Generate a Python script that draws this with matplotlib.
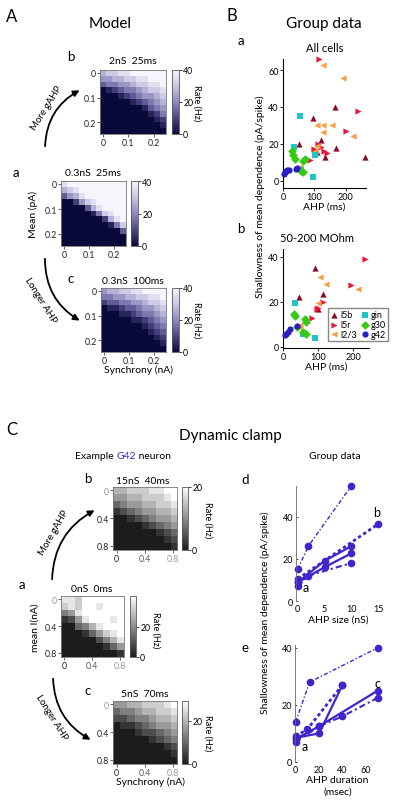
import numpy as np
import matplotlib.pyplot as plt
from matplotlib.colors import LinearSegmentedColormap
from matplotlib.patches import FancyArrowPatch

plt.rcParams['font.family'] = ['Lato', 'DejaVu Sans']

# ---- data ----
# model rate maps (digits 0-9 -> 0-40 Hz), rows = mean 0 (top) .. 0.25
model_a = ["89999999999", "67899999999", "35689999999", "00257899999",
           "00003689999", "00000147899", "00000002689", "00000000147",
           "00000000003", "00000000000", "00000000000"]
model_b = ["67788999999", "55667788999", "34455677889", "01234456778",
           "00012345567", "00000123456", "00000001345", "00000000124",
           "00000000012", "00000000001", "00000000000"]
model_c = ["56677889999", "44556677889", "23344556778", "01123345567",
           "00011234456", "00000112345", "00000001234", "00000000123",
           "00000000012", "00000000001", "00000000000"]

# dynamic clamp rate maps (digits 0-9 -> 0-vmax)
clamp_a = ["887999999", "787998999", "458999999", "125899989",
           "003468999", "000135789", "000002468", "000000135",
           "000000001"]
clamp_b = ["667778899", "556677789", "345566778", "123455667",
           "001234556", "000012345", "000000123", "000000012",
           "000000001"]
clamp_c = ["556677789", "344566778", "223445667", "011234556",
           "000122345", "000001234", "000000012", "000000001",
           "000000000"]

# group data, all cells
l5b_x_a = [166, 95, 50, 121, 169, 134, 263, 108]
l5b_y_a = [40, 34, 20, 22, 17.5, 13, 13, 15.5]
l5r_x_a = [116, 238, 200, 142, 132, 122, 105, 85, 100, 112]
l5r_y_a = [66, 38, 27, 15, 16, 18, 15, 11, 17, 20]
l23_x_a = [127, 193, 108, 129, 156, 129, 224, 108, 103, 50, 55]
l23_y_a = [62.5, 55.5, 30, 30, 30, 26.5, 24, 19, 16, 7.6, 6.7]
gin_x_a = [55, 34, 97, 103, 58]
gin_y_a = [35, 18, 2, 14, 6]
g30_x_a = [28, 33, 38, 63, 70, 57, 63]
g30_y_a = [16, 14, 12, 10.5, 11.5, 5, 4.5]
g42_x_a = [2, 7, 11, 18, 14, 44, 40]
g42_y_a = [3.5, 4.5, 5, 6, 5.5, 7, 6.5]

# group data, 50-200 MOhm
l5b_x_b = [91, 46, 115, 101]
l5b_y_b = [35, 22, 23.5, 17]
l5r_x_b = [235, 195, 115, 96, 82, 100]
l5r_y_b = [39, 27.6, 20, 16.7, 13, 17.5]
l23_x_b = [106, 123, 214, 101, 49, 45]
l23_y_b = [31, 28, 25.6, 19.7, 9.8, 8.9]
gin_x_b = [33, 58, 92]
gin_y_b = [19.4, 5.9, 4.1]
g30_x_b = [30, 35, 63, 66, 58, 66, 40]
g30_y_b = [14.5, 13.8, 12.3, 11.1, 6.4, 5.9, 9]
g42_x_b = [9, 13, 19, 40, 7]
g42_y_b = [5.9, 6.8, 7.9, 9.3, 5.5]

groups = ['l5b', 'l5r', 'l2/3', 'gin', 'g30', 'g42']

# dynamic clamp group data
size_x = [[0, 2, 10], [0, 15], [0, 5, 10], [0, 5, 10], [0, 2, 10]]
size_y = [[15, 26, 54.6], [10.4, 36.5], [8.8, 19, 26], [8.8, 16, 22.6], [6.9, 12, 18]]
dur_x = [[0, 12, 70], [0, 10, 40], [0, 20, 40], [0, 20, 70], [0, 20, 40, 70]]
dur_y = [[14, 28, 40], [9, 11.5, 27], [8.5, 10, 27], [8, 12.5, 25], [7, 12.5, 16, 22.5]]

# ---- styles ----
W, H = 400, 812
fig = plt.figure(figsize=(4, 8.12), dpi=100)
purple = LinearSegmentedColormap.from_list(
    'p', ['#0a0a3a', '#4a4682', '#8e8abd', '#c8c6e4', '#f5f5fc'])
grey = LinearSegmentedColormap.from_list('g', ['#1c1c1c', '#ffffff'])
blue = '#4025cc'
gcol = {'l5b': '#8c0a22', 'l5r': '#e8183c', 'l2/3': '#f5a045',
        'gin': '#22c4c4', 'g30': '#33cc11', 'g42': '#2a1ec4'}
gmark = {'l5b': '^', 'l5r': '>', 'l2/3': '<', 'gin': 's', 'g30': 'D', 'g42': 'o'}
line_styles = [dict(ls=(0, (3, 1.5, 1, 1.5)), lw=1.0),
               dict(ls=(0, (1.2, 1)), lw=2.0),
               dict(ls='-', lw=1.6),
               dict(ls='-', lw=1.6),
               dict(ls=(0, (3, 1.5, 1, 1.5)), lw=1.5)]


def box(l, t, r, b):
    return fig.add_axes([l / W, 1 - b / H, (r - l) / W, (b - t) / H])


def txt(x, y, s, size=7, **kw):
    kw.setdefault('ha', 'center')
    kw.setdefault('va', 'center')
    return fig.text(x / W, 1 - y / H, s, fontsize=size, **kw)


def arrow(p0, p1, rad):
    a = FancyArrowPatch((p0[0] / W, 1 - p0[1] / H), (p1[0] / W, 1 - p1[1] / H),
                        transform=fig.transFigure, arrowstyle='-|>', mutation_scale=9,
                        lw=1.3, color='black', connectionstyle=f'arc3,rad={rad}')
    fig.add_artist(a)


def to_grid(rows, vmax):
    return np.array([[int(c) for c in r] for r in rows]) * vmax / 9


def rate_map(rows, rect, crect, cmap, vmax, ext, ticks, labels, cticks):
    ax = box(*rect)
    im = ax.imshow(to_grid(rows, vmax), cmap=cmap, vmin=0, vmax=vmax, extent=ext,
                   interpolation='nearest', aspect='auto')
    ax.set_xticks(ticks)
    ax.set_xticklabels(labels)
    ax.set_yticks(ticks)
    ax.set_yticklabels(labels)
    ax.tick_params(length=2, width=0.5, labelsize=6.3, pad=1, colors='#222222')
    for s in ax.spines.values():
        s.set_color('#777777')
        s.set_linewidth(0.6)
    cax = box(*crect)
    cb = fig.colorbar(im, cax=cax, ticks=cticks)
    cb.ax.tick_params(length=2, width=0.5, labelsize=6.3, pad=1)
    cb.outline.set_linewidth(0.6)
    cb.outline.set_edgecolor('#555555')
    return ax


# ---- A: model ----
txt(12, 17, 'A', 12)
txt(110, 24, 'Model', 11)
m_ext = (-0.012, 0.248, 0.248, -0.012)
m_ticks = [0, 0.1, 0.2]
m_lab = ['0', '0.1', '0.2']
rate_map(model_b, (100, 71, 166, 135), (172, 71, 179, 135), purple, 40, m_ext, m_ticks, m_lab, [0, 20, 40])
rate_map(model_a, (61, 182, 126, 247), (131, 182, 138, 247), purple, 40, m_ext, m_ticks, m_lab, [0, 20, 40])
rate_map(model_c, (101, 289, 166, 353), (172, 289, 179, 353), purple, 40, m_ext, m_ticks, m_lab, [0, 20, 40])
txt(71, 57, 'b', 9.5)
txt(133, 62, '2nS  25ms', 7.5)
txt(16, 173, 'a', 9.5)
txt(93, 173, '0.3nS  25ms', 7.5)
txt(71, 279, 'c', 9.5)
txt(133, 281, '0.3nS  100ms', 7.5)
txt(139, 370, 'Synchrony (nA)', 7.5)
txt(33, 214, 'Mean (pA)', 7.5, rotation=90)
txt(197, 103, 'Rate (Hz)', 6.5, rotation=-90)
txt(197, 320, 'Rate (Hz)', 6.5, rotation=-90)
arrow((45, 150), (82, 90), -0.3)
arrow((45, 257), (82, 323), 0.3)
txt(47, 108, 'More gAHP', 7, rotation=58)
txt(41, 301, 'Longer AHP', 7, rotation=-58)

# ---- B: group data ----
txt(232, 16, 'B', 12)
txt(324, 24, 'Group data', 11)
txt(241, 41, 'a', 9.5)
txt(325, 48, 'All cells', 8)
txt(241, 229, 'b', 9.5)
txt(317, 238, '50-200 MOhm', 8)
txt(260, 197, 'Shallowness of mean dependence (pA/spike)', 7.5, rotation=90)

sets_a = [(l5b_x_a, l5b_y_a), (l5r_x_a, l5r_y_a), (l23_x_a, l23_y_a),
          (gin_x_a, gin_y_a), (g30_x_a, g30_y_a), (g42_x_a, g42_y_a)]
sets_b = [(l5b_x_b, l5b_y_b), (l5r_x_b, l5r_y_b), (l23_x_b, l23_y_b),
          (gin_x_b, gin_y_b), (g30_x_b, g30_y_b), (g42_x_b, g42_y_b)]

for rect, sets, xl, yl, yt in [((283, 60, 366, 189), sets_a, (0, 265), (-4, 66), [0, 20, 40, 60]),
                               ((283, 250, 369, 349), sets_b, (0, 245), (-0.5, 43.5), [0, 20, 40])]:
    ax = box(*rect)
    for g, (xs, ys) in zip(groups, sets):
        ax.scatter(xs, ys, s=20, marker=gmark[g], color=gcol[g], linewidths=0,
                   label=g, clip_on=False, zorder=3)
    ax.set_xlim(*xl)
    ax.set_ylim(*yl)
    ax.set_xticks([0, 100, 200])
    ax.set_yticks(yt)
    for s in ['top', 'right']:
        ax.spines[s].set_visible(False)
    for s in ['left', 'bottom']:
        ax.spines[s].set_linewidth(0.8)
    ax.tick_params(length=2, width=0.6, labelsize=6.5, pad=1)
    ax.set_xlabel('AHP (ms)', fontsize=7.5, labelpad=0)
ax.legend(loc='lower left', bbox_to_anchor=(0.52, 0.07), ncol=2, fontsize=6.5,
          handletextpad=0.1, columnspacing=0.4, borderpad=0.25, labelspacing=0.1,
          handlelength=1, fancybox=False, edgecolor='#888888', framealpha=1,
          borderaxespad=0)

# ---- C: dynamic clamp ----
txt(12, 430, 'C', 12)
txt(230, 436, 'Dynamic clamp', 11)
t = txt(75, 457, 'Example ', 7.5, ha='left')
fig.canvas.draw()
bb = t.get_window_extent()
t2 = fig.text(bb.x1 / W, 1 - 457 / H, 'G42', fontsize=7.5, color=blue, ha='left', va='center')
bb2 = t2.get_window_extent(renderer=fig.canvas.get_renderer())
fig.text(bb2.x1 / W, 1 - 457 / H, ' neuron', fontsize=7.5, ha='left', va='center')
txt(335, 457, 'Group data', 7.5)

c_ext = (-0.05, 0.86, 0.86, -0.05)
c_ticks = [0, 0.4, 0.8]
c_lab = ['0', '0.4', '0.8']
axes_c = [rate_map(clamp_b, (113, 488, 177, 551), (182, 488, 188, 551), grey, 20, c_ext, c_ticks, c_lab, [0, 20]),
          rate_map(clamp_a, (61, 597, 124, 658), (130, 597, 136, 658), grey, 40, c_ext, c_ticks, c_lab, [0, 20]),
          rate_map(clamp_c, (113, 702, 177, 765), (182, 702, 188, 765), grey, 29, c_ext, c_ticks, c_lab, [0, 20])]
for ax in axes_c:
    ax.get_yticklabels()[0].set_color('#999999')
    ax.get_xticklabels()[2].set_color('#999999')
    ax.get_xticklabels()[1].set_color('#555555')
txt(88, 479, 'b', 9.5)
txt(143, 482, '15nS  40ms', 7.5)
txt(22, 585, 'a', 9.5)
txt(92, 589, '0nS  0ms', 7.5)
txt(88, 691, 'c', 9.5)
txt(145, 695, '5nS  70ms', 7.5)
txt(150, 782, 'Synchrony (nA)', 7.5)
txt(35, 628, 'mean I(nA)', 7.5, rotation=90)
txt(156, 630, 'Rate (Hz)', 6.5, rotation=-90)
txt(208, 520, 'Rate (Hz)', 6.5, rotation=-90)
txt(208, 733, 'Rate (Hz)', 6.5, rotation=-90)
arrow((52, 583), (97, 510), -0.3)
arrow((53, 677), (93, 742), 0.3)
txt(54, 533, 'More gAHP', 7, rotation=60)
txt(52, 718, 'Longer AHP', 7, rotation=-58)

txt(245, 480, 'd', 9.5)
txt(245, 648, 'e', 9.5)
txt(265, 613, 'Shallowness of mean dependence (pA/spike)', 7.5, rotation=90)

for rect, xs, ys, xl, yl, xt, xlab, tags in [
        ((296, 487, 381, 602), size_x, size_y, (-0.3, 15.5), (0, 54.5), [0, 5, 10, 15],
         'AHP size (nS)', [(1.5, 6.5, 'a'), (14.6, 42, 'b')]),
        ((295, 646, 380, 763), dur_x, dur_y, (-0.5, 72), (0, 41), [0, 20, 40, 60],
         'AHP duration\n(msec)', [(8, 5.5, 'a'), (69.7, 27.7, 'c')])]:
    ax = box(*rect)
    for x, y, st in zip(xs, ys, line_styles):
        ax.plot(x, y, color=blue, marker='o', ms=4.5, mec=blue, clip_on=False,
                linestyle=st['ls'], lw=st['lw'])
    for tx, ty, s in tags:
        ax.text(tx, ty, s, fontsize=9, ha='center', va='center')
    ax.set_xlim(*xl)
    ax.set_ylim(*yl)
    ax.set_xticks(xt)
    ax.set_yticks([0, 20, 40])
    for s in ['top', 'right', 'bottom']:
        ax.spines[s].set_visible(False)
    ax.spines['left'].set_linewidth(0.6)
    ax.spines['left'].set_color('#666666')
    ax.tick_params(length=0, labelsize=6.5, pad=2)
    ax.tick_params(axis='y', length=1.5, width=0.5, direction='in')
    ax.set_xlabel(xlab, fontsize=7.5, labelpad=1, linespacing=1.4)

fig.savefig('out.png', dpi=100)
